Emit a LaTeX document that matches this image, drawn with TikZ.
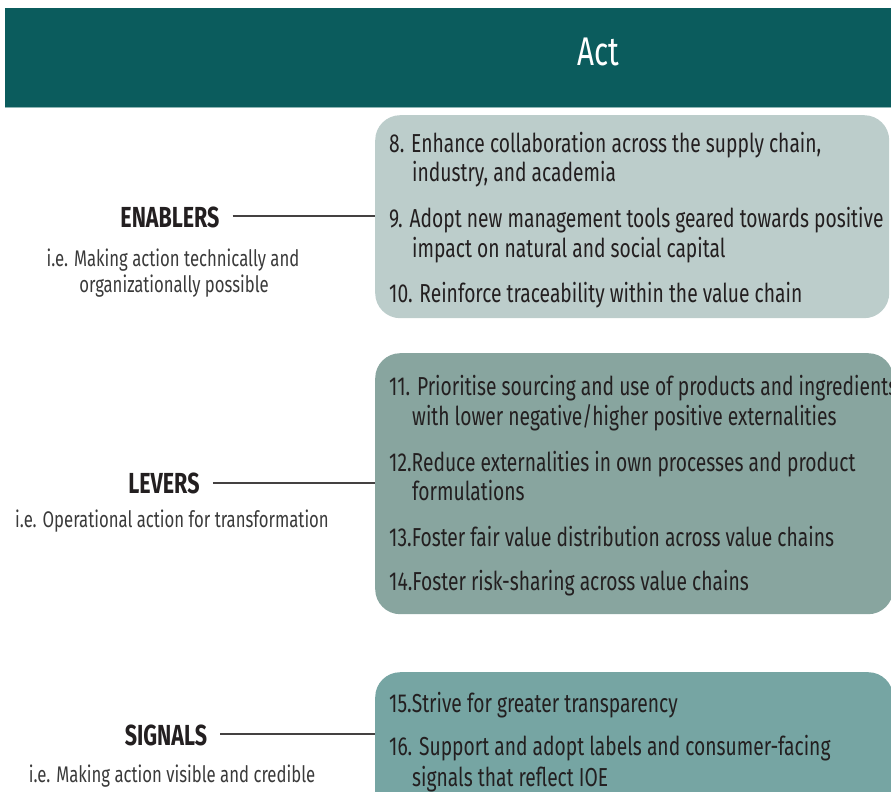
\documentclass[tikz,border=0pt]{standalone}
\usepackage{fontspec}
\setmainfont{Fira Sans}[FakeStretch=0.74]
\usetikzlibrary{calc}

\definecolor{headerteal}{HTML}{0B5C5D}
\definecolor{headerrule}{HTML}{8FB6B5}
\definecolor{enablersfill}{HTML}{BCCDCB}
\definecolor{leversfill}{HTML}{88A59F}
\definecolor{signalsfill}{HTML}{76A5A3}
\definecolor{ink}{HTML}{231F20}
\definecolor{subink}{HTML}{3A3A3A}

\newcommand{\itemfont}{\fontsize{26}{30}\selectfont}
\newcommand{\headfont}{\fontsize{29}{32}\selectfont\bfseries}
\newcommand{\subfont}{\fontsize{22.6}{26}\selectfont}
\newcommand{\titlefont}{\fontsize{40}{44}\selectfont}

\begin{document}
\begin{tikzpicture}[x=1pt, y=-1pt,
  groupbox/.style={anchor=north west, inner sep=0, rounded corners=25pt, draw=none},
  itemtext/.style={anchor=base west, inner sep=0, font=\itemfont, text=ink},
  headtext/.style={anchor=base, inner sep=0, font=\headfont, text=ink},
  subtext/.style={anchor=base, inner sep=0, font=\subfont, text=subink},
  link/.style={draw=ink!85, line width=1.2pt}]

  \useasboundingbox (0,0) rectangle (891,792);
  \clip (0,0) rectangle (891,792);

  % header band
  \node[anchor=north west, fill=headerteal, minimum width=886pt, minimum height=99pt, inner sep=0] (hdr) at (5,8) {};
  \draw[headerrule, line width=1.5pt] (hdr.south west) -- (hdr.south east);
  \node[font=\titlefont, text=white, inner sep=0] (act) at (598,52) {Act};

  % grouped action boxes
  \node[groupbox, fill=enablersfill, minimum width=514pt, minimum height=203pt] (b1) at (375,115) {};
  \node[groupbox, fill=leversfill, minimum width=518pt, minimum height=261pt] (b2) at (375,353) {};
  \node[groupbox, fill=signalsfill, minimum width=518pt, minimum height=170pt] (b3) at (375,672) {};

  % enablers items
  \node[itemtext] (i8)  at (389,152) {8. Enhance collaboration across the supply chain,};
  \node[itemtext] (i8b) at (412,181) {industry, and academia};
  \node[itemtext] (i9)  at (389,227) {9. Adopt new management tools geared towards positive};
  \node[itemtext] (i9b) at (412,257) {impact on natural and social capital};
  \node[itemtext] (i10) at (389,302) {10. Reinforce traceability within the value chain};

  % levers items
  \node[itemtext] (i11)  at (389,395) {11. Prioritise sourcing and use of products and ingredients};
  \node[itemtext] (i11b) at (412,425) {with lower negative/higher positive externalities};
  \node[itemtext] (i12)  at (389,471) {12.Reduce externalities in own processes and product};
  \node[itemtext] (i12b) at (412,500) {formulations};
  \node[itemtext] (i13)  at (389,546) {13.Foster fair value distribution across value chains};
  \node[itemtext] (i14)  at (389,590) {14.Foster risk-sharing across value chains};

  % signals items
  \node[itemtext] (i15)  at (389,712) {15.Strive for greater transparency};
  \node[itemtext] (i16)  at (389,755) {16. Support and adopt labels and consumer-facing};
  \node[itemtext] (i16b) at (412,786) {signals that reflect IOE};

  % category labels
  \node[headtext] (enablers) at (170,227) {ENABLERS};
  \node[subtext] (enablerssub)  at (173,266) {i.e. Making action technically and};
  \node[subtext] (enablerssub2) at (174,292) {organizationally possible};

  \node[headtext] (levers) at (164,493) {LEVERS};
  \node[subtext] (leverssub) at (172,527) {i.e. Operational action for transformation};

  \node[headtext] (signals) at (166,745) {SIGNALS};
  \node[subtext] (signalssub) at (172,782) {i.e. Making action visible and credible};

  % connectors from labels to boxes
  \coordinate (cen) at ($(enablers.base east)+(13,-11)$);
  \coordinate (cle) at ($(levers.base east)+(13,-10)$);
  \coordinate (csi) at ($(signals.base east)+(13,-11)$);
  \draw[link] (cen) -- (cen -| b1.west);
  \draw[link] (cle) -- (cle -| b2.west);
  \draw[link] (csi) -- (csi -| b3.west);
\end{tikzpicture}
\end{document}
